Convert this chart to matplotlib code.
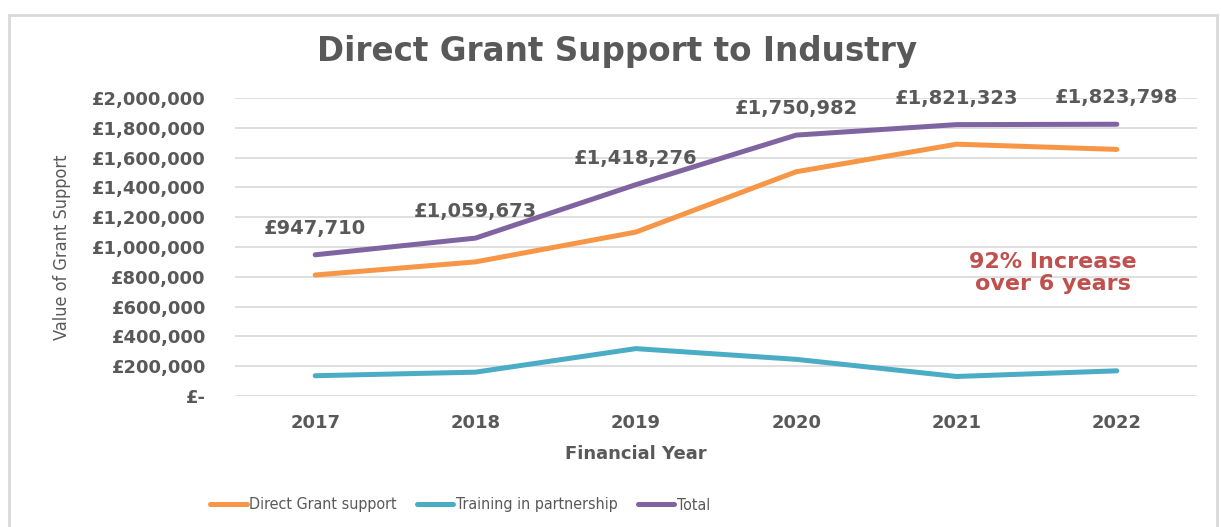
import matplotlib.pyplot as plt
from matplotlib.patches import Rectangle
from matplotlib.ticker import FuncFormatter

# Datos
anios = ["2017", "2018", "2019", "2020", "2021", "2022"]
direct_grant = [812000, 900000, 1100000, 1505000, 1690000, 1655000]
training = [136000, 160000, 318000, 246000, 131000, 169000]
total = [947710, 1059673, 1418276, 1750982, 1821323, 1823798]

gris = "#595959"
c_direct = "#F79646"
c_training = "#4BACC6"
c_total = "#8064A2"

fig = plt.figure(figsize=(12.21, 5.27), dpi=100)
ax = fig.add_axes([235 / 1221, 1 - 396 / 527, (1197 - 235) / 1221, (396 - 98) / 527])

# Marco exterior del grafico
fig.patches.append(
    Rectangle((9 / 1221, -0.05), (1217 - 9) / 1221, 1.05 - 15 / 527,
              transform=fig.transFigure, fill=False, edgecolor="#d9d9d9",
              linewidth=2)
)

x = list(range(len(anios)))
ax.plot(x, direct_grant, color=c_direct, linewidth=3.6, solid_capstyle="round",
        label="Direct Grant support")
ax.plot(x, training, color=c_training, linewidth=3.6, solid_capstyle="round",
        label="Training in partnership")
ax.plot(x, total, color=c_total, linewidth=3.6, solid_capstyle="round",
        label="Total")

# Etiquetas del total
for xi, v in zip(x, total):
    ax.annotate(f"£{v:,.0f}", (xi, v), xytext=(0, 19), textcoords="offset points",
                ha="center", va="center", fontsize=14, fontweight="bold",
                color=gris, annotation_clip=False)

ax.text(4.6, 825000, "92% Increase\nover 6 years", ha="center", va="center",
        fontsize=16, fontweight="bold", color="#C0504D", linespacing=1.15)

ax.set_xlim(-0.5, 5.5)
ax.set_ylim(0, 2000000)
ax.set_yticks(range(0, 2000001, 200000))
ax.yaxis.set_major_formatter(
    FuncFormatter(lambda v, p: "£-" if v == 0 else f"£{v:,.0f}"))
ax.set_xticks(x)
ax.set_xticklabels(anios)

ax.grid(True, axis="y", color="#d9d9d9", linewidth=1.2)
ax.set_axisbelow(True)
for s in ax.spines.values():
    s.set_visible(False)
ax.tick_params(axis="both", length=0, colors=gris)
ax.tick_params(axis="y", pad=21, labelsize=13)
ax.tick_params(axis="x", pad=13, labelsize=13)
for lbl in ax.get_xticklabels() + ax.get_yticklabels():
    lbl.set_fontweight("bold")

fig.text(636 / 1221, 1 - 454 / 527, "Financial Year", ha="center", va="center",
         fontsize=13, fontweight="bold", color=gris)
fig.text(62 / 1221, 1 - 247 / 527, "Value of Grant Support", rotation=90,
         ha="center", va="center", fontsize=13, color=gris,
         fontstretch="condensed")

fig.text(617 / 1221, 1 - 52 / 527, "Direct Grant Support to Industry",
         ha="center", va="center", fontsize=23.5, fontweight="bold", color=gris)

leg = fig.legend(loc="center", bbox_to_anchor=(460 / 1221, 1 - 505 / 527),
                 ncol=3, frameon=False, handlelength=2.3, handletextpad=0.15,
                 columnspacing=1.25,
                 prop={"size": 11.5, "stretch": "condensed"})
for t in leg.get_texts():
    t.set_color(gris)
for h in leg.legend_handles:
    h.set_solid_capstyle("round")

fig.savefig("out.png", dpi=100)
